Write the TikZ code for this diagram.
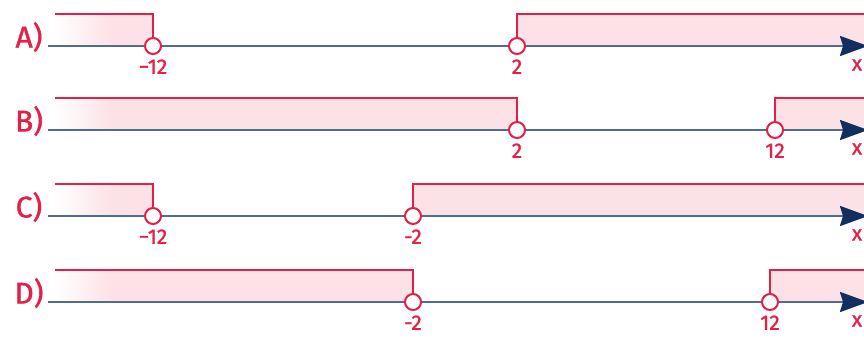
\documentclass[tikz,border=0pt]{standalone}
\usepackage{fontspec}
\setmainfont{Fira Sans}
\newfontfamily\handfont[FakeBold=1.2]{Fira Sans}
\usetikzlibrary{arrows.meta}
\definecolor{inkred}{RGB}{228,32,72}
\definecolor{bandpink}{RGB}{252,226,231}
\definecolor{axisblue}{RGB}{78,108,148}
\definecolor{tipnavy}{RGB}{18,46,96}
\tikzset{
  axisline/.style={draw=axisblue, line width=2.4pt,
    -{Stealth[length=28pt,width=20pt,inset=3pt,color=tipnavy]}},
  bound/.style={draw=inkred, line width=2pt},
  hole/.style={circle, draw=inkred, fill=white, line width=2pt,
    minimum size=16pt, inner sep=0pt},
  rowname/.style={text=inkred, font=\handfont\fontsize{30}{30}\selectfont},
  ticknum/.style={text=inkred, font=\handfont\fontsize{21}{21}\selectfont},
}
\begin{document}
\begin{tikzpicture}[x=1pt,y=-1pt]
\useasboundingbox (0,0) rectangle (864,338);
\foreach \row/\y/\a/\la/\b/\lb in {A/46/153/{−12}/517/2, B/130/517/2/775/12,
    C/216/153/{−12}/413/{-2}, D/302/413/{-2}/770/12}{
  % shaded bands
  \shade[left color=white, right color=bandpink] (55,\y-32) rectangle (110,\y);
  \fill[bandpink] (110,\y-32) rectangle (\a,\y);
  \fill[bandpink] (\b,\y-32) rectangle (870,\y);
  % number line
  \coordinate (\row-s) at (48,\y);
  \coordinate (\row-e) at (868,\y);
  \coordinate (\row-ta) at (55,\y-32);
  \coordinate (\row-tb) at (870,\y-32);
  \draw[axisline] (\row-s) -- (\row-e);
  \node[rowname] (\row-name) at (29,\y-9) {\row)};
  \node[ticknum] (\row-x) at (857,\y+19) {x};
  % end points
  \node[hole] (\row-a) at (\a,\y) {};
  \node[hole] (\row-b) at (\b,\y) {};
  \node[ticknum, below=1pt] (\row-la) at (\row-a.south) {\la};
  \node[ticknum, below=1pt] (\row-lb) at (\row-b.south) {\lb};
  \draw[bound] (\row-a.north) |- (\row-ta);
  \draw[bound] (\row-b.north) |- (\row-tb);
}
\end{tikzpicture}
\end{document}
